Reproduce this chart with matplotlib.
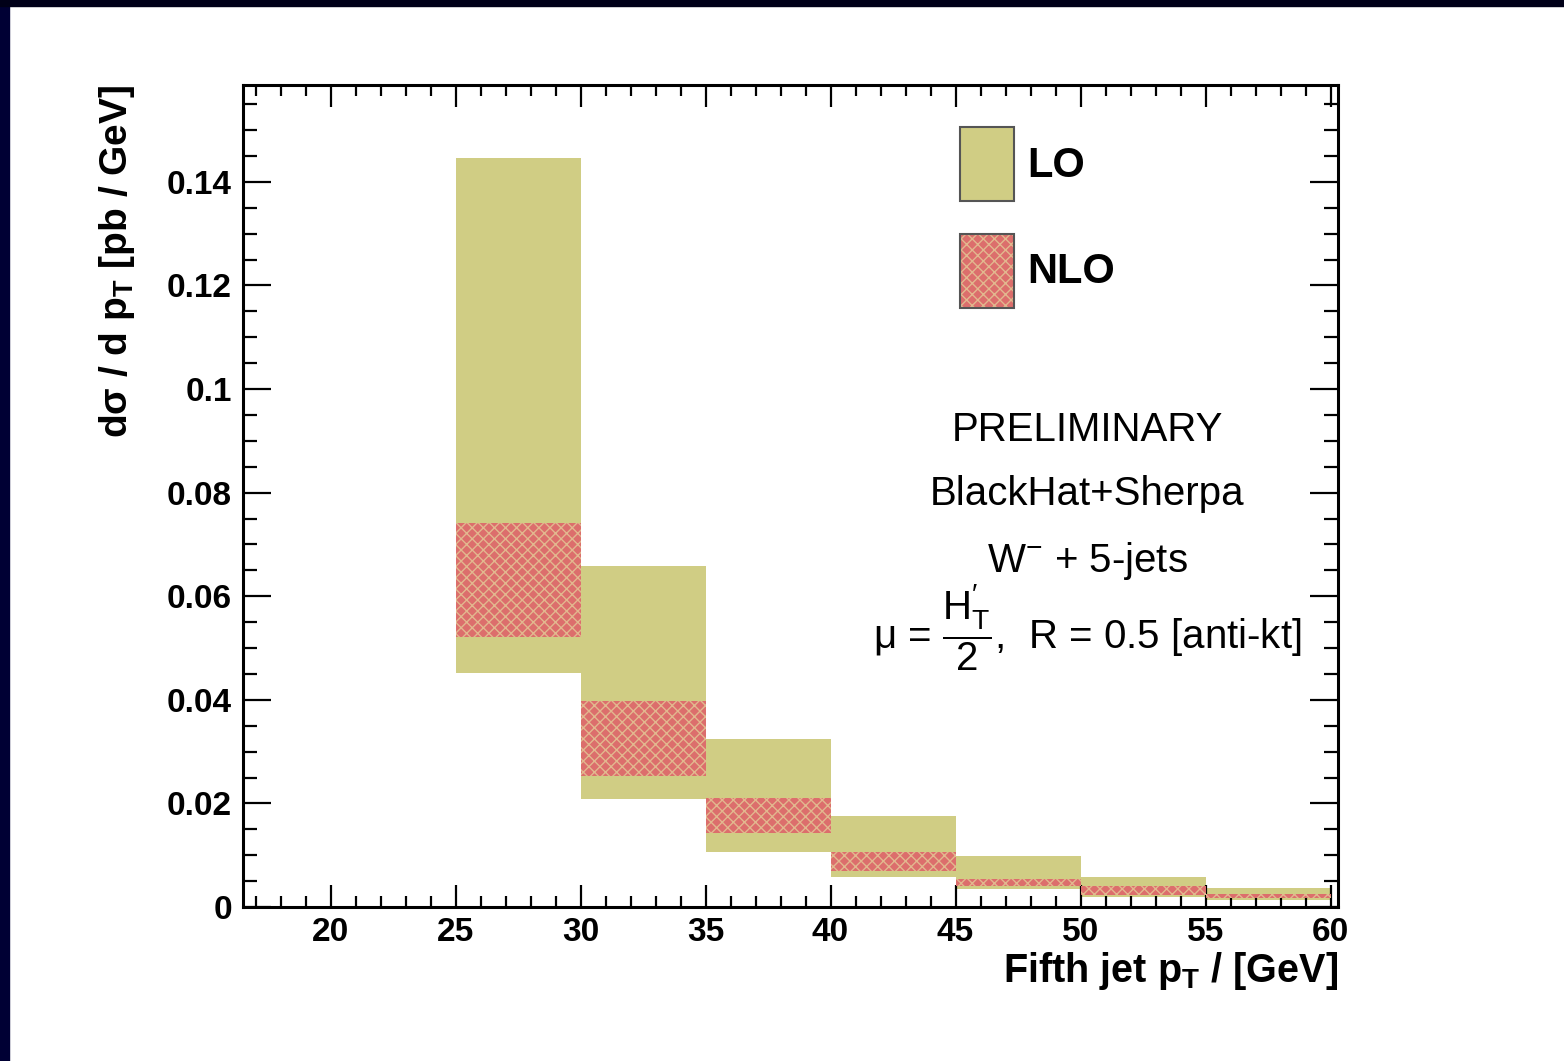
import numpy as np
import matplotlib
matplotlib.use("Agg")
import matplotlib.pyplot as plt
from matplotlib.patches import Rectangle, Patch
from matplotlib.legend_handler import HandlerTuple
from matplotlib.ticker import MultipleLocator, FuncFormatter

#---------------------FONT and other graphics------------------------
matplotlib.rc('font', family='Liberation Sans', weight='bold', size=24)
matplotlib.rc('mathtext', fontset='custom', rm='Liberation Sans:weight=normal',
              it='Liberation Sans:italic:weight=normal', bf='Liberation Sans:bold')
matplotlib.rc('hatch', linewidth=1.0)
matplotlib.rc('xtick.major', width=1.6, size=16)
matplotlib.rc('xtick.minor', width=1.6, size=8)
matplotlib.rc('ytick.major', width=1.6, size=20)
matplotlib.rc('ytick.minor', width=1.6, size=10)

#---------------------DATA------------------------
bin_lo_edge = [25, 30, 35, 40, 45, 50, 55]
bin_width = 5
lo_upper = [0.1446, 0.0658, 0.0324, 0.0176, 0.0098, 0.0058, 0.0036]
lo_lower = [0.0452, 0.0208, 0.0106, 0.0058, 0.0034, 0.0020, 0.0013]
nlo_upper = [0.0741, 0.0398, 0.0210, 0.0106, 0.0055, 0.0040, 0.0026]
nlo_lower = [0.0522, 0.0253, 0.0143, 0.0070, 0.0040, 0.0023, 0.0017]

lo_color = '#d0cd84'
nlo_color = '#dc6e6c'
dot_color = '#e2b88e'
#-------------------------------------------------

fig = plt.figure(figsize=(15.64, 10.61), dpi=100)
fig.patch.set_facecolor('white')
# dark frame on left and top edge of the slide
fig.patches.append(Rectangle((0, 0), 9/1564., 1, transform=fig.transFigure,
                             color='#000034', zorder=0))
fig.patches.append(Rectangle((0, 1-6/1061.), 1, 6/1061., transform=fig.transFigure,
                             color='#000018', zorder=0))

ax = fig.add_axes([243/1564., 1-907/1061., (1338-243)/1564., (907-85)/1061.])
for s in ax.spines.values():
    s.set_linewidth(2.2)

lo_h = np.array(lo_upper) - np.array(lo_lower)
nlo_h = np.array(nlo_upper) - np.array(nlo_lower)
ax.bar(bin_lo_edge, lo_h, bottom=lo_lower, width=bin_width, align='edge',
       color=lo_color, linewidth=0, zorder=1)
ax.bar(bin_lo_edge, nlo_h, bottom=nlo_lower, width=bin_width, align='edge',
       facecolor=nlo_color, edgecolor=dot_color, hatch='xxx', linewidth=0, zorder=2)

ax.set_xlim(16.5, 60.3)
ax.set_ylim(0, 0.1587)
ax.xaxis.set_major_locator(MultipleLocator(5))
ax.xaxis.set_minor_locator(MultipleLocator(1))
ax.yaxis.set_major_locator(MultipleLocator(0.02))
ax.yaxis.set_minor_locator(MultipleLocator(0.005))
ax.yaxis.set_major_formatter(FuncFormatter(lambda v, p: '%g' % round(v, 3)))
ax.tick_params(which='both', direction='in', top=True, right=True)
ax.tick_params(axis='x', which='major', pad=7)
ax.tick_params(axis='y', which='major', pad=8)

ax.set_xlabel(r'Fifth jet p$_{\mathbf{T}}$ / [GeV]', size=28.5, weight='bold', ha='right')
ax.xaxis.set_label_coords(1.0, -0.052)
ax.set_ylabel(u'd\u03c3 / d p$_{\\mathbf{T}}$ [pb / GeV]', size=28, weight='bold', ha='right')
ax.yaxis.set_label_coords(-0.097, 1.0)

# legend
lo_h_patch = Patch(facecolor=lo_color, edgecolor='#555555', linewidth=1.5)
nlo_fill = Patch(facecolor=nlo_color, edgecolor=dot_color, hatch='xxx', linewidth=0)
nlo_frame = Patch(facecolor='none', edgecolor='#555555', linewidth=1.5)
leg = ax.legend([lo_h_patch, (nlo_fill, nlo_frame)], ['LO', 'NLO'],
                handler_map={tuple: HandlerTuple(ndivide=1, pad=0)},
                loc='upper left', bbox_to_anchor=(0.655, 0.949),
                frameon=False, prop={'size': 30, 'weight': 'bold'},
                handlelength=1.3, handleheight=2.35, labelspacing=0.79,
                handletextpad=0.3, borderpad=0, borderaxespad=0)

# annotation text
tx = (1087-243)/1095.
kw = dict(transform=ax.transAxes, ha='center', va='center', weight='normal', size=29)
ax.text(tx, 1-(430-85)/822., 'PRELIMINARY', **kw)
ax.text(tx, 1-(494-85)/822., 'BlackHat+Sherpa', **kw)
ax.text(tx, 1-(561-85)/822., r'W$^{-}$ + 5-jets', **kw)
ax.text(tx, 1-(628-85)/822., u'\u03bc = ' + r'$\dfrac{\mathrm{H}^{\prime}_{\mathrm{T}}}{2}$' + ',  R = 0.5 [anti-kt]', **kw)

fig.savefig('out.png', dpi=100)
